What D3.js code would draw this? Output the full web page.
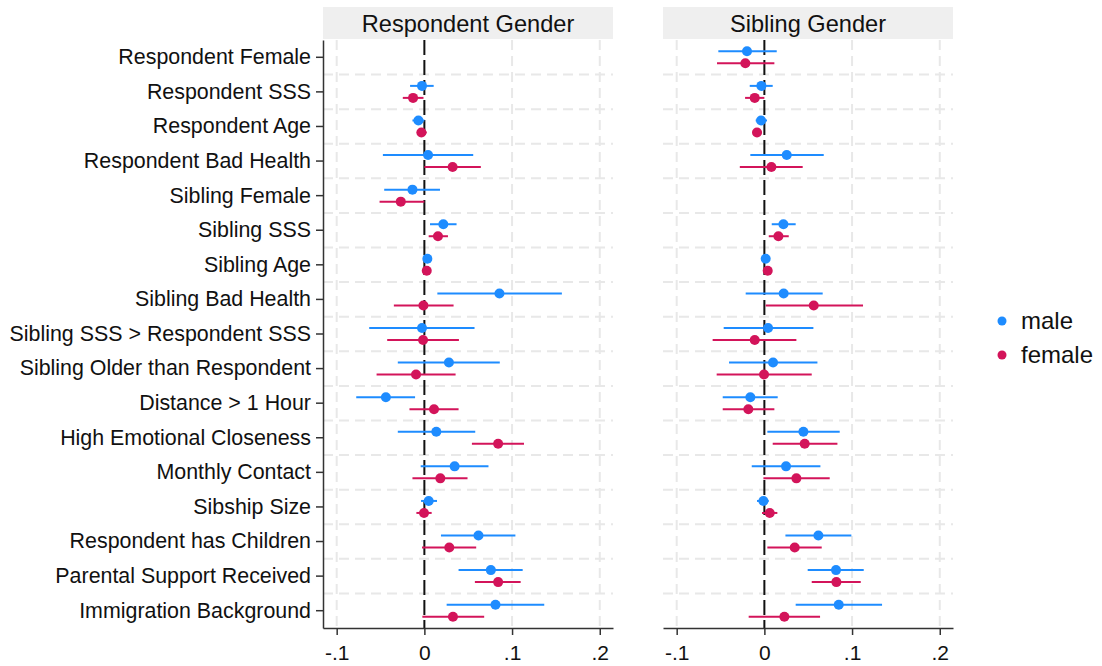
<!DOCTYPE html>
<html>
<head>
<meta charset="utf-8">
<script src="https://cdn.jsdelivr.net/npm/d3@7"></script>
<style>
  body { margin: 0; background: #fff; }
  text { font-family: "Liberation Sans", Arial, sans-serif; fill: #111; }
</style>
</head>
<body>
<svg id="chart"></svg>
<script>
// variables, top to bottom
const variables = [
  "Respondent Female", "Respondent SSS", "Respondent Age", "Respondent Bad Health",
  "Sibling Female", "Sibling SSS", "Sibling Age", "Sibling Bad Health",
  "Sibling SSS > Respondent SSS", "Sibling Older than Respondent", "Distance > 1 Hour",
  "High Emotional Closeness", "Monthly Contact", "Sibship Size",
  "Respondent has Children", "Parental Support Received", "Immigration Background"
];
const panels = ["Respondent Gender", "Sibling Gender"];
const groups = ["male", "female"];
const groupColors = ["#1e8cff", "#d3145a"];
const xTicks = [-0.1, 0, 0.1, 0.2];
const xTickLabels = ["-.1", "0", ".1", ".2"];

// [estimate, lower, upper]; null = not estimated
const respMale = [
  null, [-0.0027, -0.0163, 0.0106], [-0.0068, -0.0136, 0.0000], [0.0042, -0.0473, 0.0557],
  [-0.0136, -0.0458, 0.0178], [0.0216, 0.0064, 0.0367], [0.0034, 0.0020, 0.0048],
  [0.0856, 0.0148, 0.1568], [-0.0027, -0.0629, 0.0572], [0.0280, -0.0303, 0.0860],
  [-0.0439, -0.0777, -0.0106], [0.0136, -0.0303, 0.0580], [0.0345, -0.0042, 0.0731],
  [0.0049, -0.0038, 0.0144], [0.0617, 0.0189, 0.1038], [0.0758, 0.0390, 0.1121],
  [0.0811, 0.0254, 0.1367]
];
const respFemale = [
  null, [-0.0129, -0.0246, -0.0010], [-0.0034, -0.0087, 0.0027], [0.0322, 0.0000, 0.0644],
  [-0.0269, -0.0511, 0.0000], [0.0155, 0.0049, 0.0269], [0.0027, 0.0014, 0.0040],
  [-0.0011, -0.0348, 0.0333], [-0.0015, -0.0424, 0.0394], [-0.0095, -0.0545, 0.0356],
  [0.0110, -0.0170, 0.0390], [0.0841, 0.0542, 0.1136], [0.0182, -0.0136, 0.0492],
  [-0.0004, -0.0091, 0.0083], [0.0284, -0.0027, 0.0591], [0.0841, 0.0576, 0.1098],
  [0.0326, -0.0023, 0.0682]
];
const sibMale = [
  [-0.0198, -0.0525, 0.0141], [-0.0034, -0.0167, 0.0095], [-0.0038, -0.0099, 0.0030],
  [0.0255, -0.0160, 0.0677], null, [0.0217, 0.0084, 0.0357], [0.0015, 0.0002, 0.0028],
  [0.0220, -0.0213, 0.0665], [0.0042, -0.0464, 0.0559], [0.0099, -0.0403, 0.0605],
  [-0.0160, -0.0475, 0.0152], [0.0445, 0.0034, 0.0859], [0.0247, -0.0144, 0.0639],
  [-0.0011, -0.0084, 0.0050], [0.0616, 0.0240, 0.0992], [0.0817, 0.0494, 0.1133],
  [0.0848, 0.0357, 0.1342]
];
const sibFemale = [
  [-0.0217, -0.0540, 0.0114], [-0.0110, -0.0220, 0.0000], [-0.0084, -0.0133, -0.0027],
  [0.0080, -0.0280, 0.0437], null, [0.0160, 0.0050, 0.0278], [0.0038, 0.0025, 0.0051],
  [0.0563, 0.0015, 0.1125], [-0.0110, -0.0590, 0.0365], [-0.0004, -0.0544, 0.0540],
  [-0.0183, -0.0475, 0.0114], [0.0460, 0.0095, 0.0833], [0.0365, -0.0011, 0.0745],
  [0.0061, -0.0027, 0.0148], [0.0346, 0.0034, 0.0654], [0.0821, 0.0540, 0.1099],
  [0.0228, -0.0179, 0.0635]
];
const panelData = [[respMale, respFemale], [sibMale, sibFemale]];

const W = 1102, H = 666;
const panelLeft = [323, 663];
const panelW = 290;
const plotTop = 40, plotBottom = 628;
const fontFam = "Liberation Sans, Arial, sans-serif";

const svg = d3.select("#chart").attr("width", W).attr("height", H);

const x = d3.scaleLinear().domain([-0.1156, 0.2151]).range([0, panelW]);
const y = d3.scaleBand().domain(variables).range([plotTop, plotBottom]).padding(0);
const offset = d3.scalePoint().domain(groups).range([-6, 6]);
const color = d3.scaleOrdinal().domain(groups).range(groupColors);

panels.forEach((title, p) => {
  const g = svg.append("g").attr("transform", `translate(${panelLeft[p]},0)`);

  // header strip
  g.append("rect")
    .attr("x", 0).attr("y", 7).attr("width", panelW).attr("height", 32)
    .attr("fill", "#efefef");
  g.append("text")
    .attr("x", panelW / 2).attr("y", 32)
    .attr("text-anchor", "middle")
    .attr("font-size", "23.6px")
    .text(title);

  // horizontal grid lines between rows
  g.selectAll(".hgrid")
    .data(variables.slice(1))
    .enter().append("line")
    .attr("x1", 0).attr("x2", panelW)
    .attr("y1", d => y(d)).attr("y2", d => y(d))
    .attr("stroke", "#e8e8e8").attr("stroke-width", 2)
    .attr("stroke-dasharray", "10,6");

  // vertical grid lines
  g.selectAll(".vgrid")
    .data(xTicks.filter(t => t !== 0))
    .enter().append("line")
    .attr("x1", d => x(d)).attr("x2", d => x(d))
    .attr("y1", plotTop).attr("y2", plotBottom)
    .attr("stroke", "#e8e8e8").attr("stroke-width", 2)
    .attr("stroke-dasharray", "10,6");

  // zero reference line
  g.append("line")
    .attr("x1", x(0)).attr("x2", x(0))
    .attr("y1", plotTop).attr("y2", plotBottom)
    .attr("stroke", "#111").attr("stroke-width", 2)
    .attr("stroke-dasharray", "15,5");

  // x axis
  const xAxis = g.append("g")
    .attr("transform", `translate(0,${plotBottom})`)
    .call(d3.axisBottom(x).tickValues(xTicks)
      .tickFormat((d, i) => xTickLabels[i]).tickSizeInner(7).tickSizeOuter(0).tickPadding(10));
  xAxis.select(".domain").attr("stroke", "#333").attr("stroke-width", 1.5);
  xAxis.selectAll(".tick line").attr("stroke", "#333").attr("stroke-width", 1.5);
  xAxis.selectAll("text").attr("font-size", "21px").attr("font-family", fontFam);

  // y axis only on first panel
  if (p === 0) {
    const yAxis = g.append("g")
      .call(d3.axisLeft(y).tickSizeInner(7).tickSizeOuter(0).tickPadding(5));
    yAxis.select(".domain").attr("stroke", "#333").attr("stroke-width", 1.5);
    yAxis.selectAll(".tick line").attr("stroke", "#333").attr("stroke-width", 1.5);
    yAxis.selectAll("text").attr("font-size", "21.4px").attr("font-family", fontFam);
  }

  // confidence intervals and point estimates
  groups.forEach((grp, k) => {
    const rows = panelData[p][k]
      .map((v, i) => v ? { name: variables[i], est: v[0], lo: v[1], hi: v[2] } : null)
      .filter(d => d);
    const yc = d => y(d.name) + y.bandwidth() / 2 + offset(grp);

    g.selectAll(`.ci-${grp}`)
      .data(rows)
      .enter().append("line")
      .attr("x1", d => x(d.lo)).attr("x2", d => x(d.hi))
      .attr("y1", yc).attr("y2", yc)
      .attr("stroke", color(grp)).attr("stroke-width", 2);

    g.selectAll(`.pt-${grp}`)
      .data(rows)
      .enter().append("circle")
      .attr("cx", d => x(d.est)).attr("cy", yc)
      .attr("r", 5)
      .attr("fill", color(grp));
  });
});

// legend
const legend = svg.append("g").attr("transform", "translate(1002,321)");
groups.forEach((grp, i) => {
  legend.append("circle")
    .attr("cx", 0).attr("cy", i * 34)
    .attr("r", 4.5)
    .attr("fill", color(grp));
  legend.append("text")
    .attr("x", 19).attr("y", i * 34 + 8)
    .attr("font-size", "24px")
    .text(grp);
});
</script>
</body>
</html>
